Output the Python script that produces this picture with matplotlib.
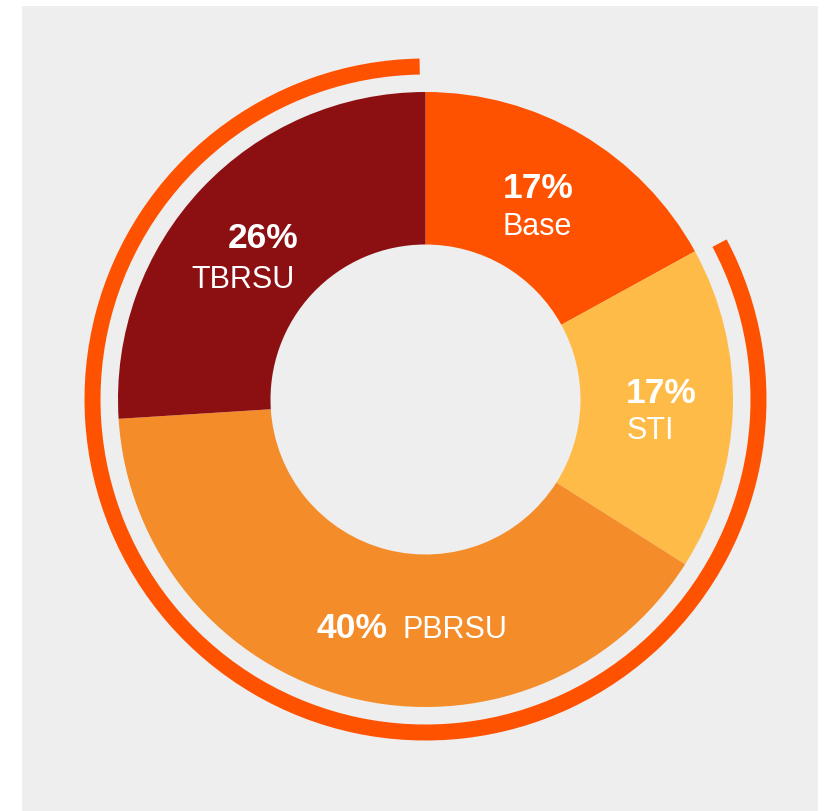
import matplotlib
matplotlib.use("Agg")
import matplotlib.pyplot as plt
from matplotlib.patches import Wedge

plt.rcParams['font.family'] = ['Liberation Sans', 'DejaVu Sans']

# Data
categories = ["Base", "STI", "PBRSU", "TBRSU"]
shares = [17, 17, 40, 26]
colors = ["#FF5200", "#FFBB47", "#F58C2A", "#8C0F12"]
pct_labels = ["17%", "17%", "40%", "26%"]

W, H = 825, 812
fig = plt.figure(figsize=(W / 100, H / 100), dpi=100)
fig.patch.set_facecolor("white")

left_px, right_px, top_px = 22, 818, 7
ax = fig.add_axes([left_px / W, 0, (right_px - left_px) / W, (H - top_px) / H])
ax.set_facecolor("#EEEEEE")

def py(y):
    return H - y

cx, cy = 425.5, py(400.5)
r_out, r_in = 307.5, 155

ax.pie(shares, colors=colors, startangle=90, counterclock=False,
       radius=r_out, center=(cx, cy), frame=True,
       wedgeprops=dict(width=r_out - r_in, edgecolor="none", linewidth=0))

# Outer arc around all slices except Base
total = sum(shares)
a_start = 360 * shares[0] / total + 0.8
a_end = 359.0
arc = Wedge((cx, cy), 341, 90 - a_end, 90 - a_start, width=16,
            facecolor=colors[0], edgecolor="none")
ax.add_patch(arc)

ax.set_xlim(left_px, right_px)
ax.set_ylim(0, H - top_px)
ax.set_aspect("equal")
ax.set_xticks([])
ax.set_yticks([])
for s in ax.spines.values():
    s.set_visible(False)

pct_fs, name_fs = 25.5, 22
# Base
ax.text(503, py(198), pct_labels[0], color="white", fontsize=pct_fs, fontweight="bold", ha="left", va="baseline")
ax.text(502, py(235), categories[0], color="white", fontsize=name_fs, ha="left", va="baseline")
# STI
ax.text(626, py(403), pct_labels[1], color="white", fontsize=pct_fs, fontweight="bold", ha="left", va="baseline")
ax.text(627, py(439), categories[1], color="white", fontsize=name_fs, ha="left", va="baseline")
# PBRSU
ax.text(316, py(638), pct_labels[2], color="white", fontsize=pct_fs, fontweight="bold", ha="left", va="baseline")
ax.text(402, py(638), categories[2], color="white", fontsize=name_fs, ha="left", va="baseline")
# TBRSU
ax.text(298, py(248), pct_labels[3], color="white", fontsize=pct_fs, fontweight="bold", ha="right", va="baseline")
ax.text(295, py(288), categories[3], color="white", fontsize=name_fs, ha="right", va="baseline")

fig.savefig("out.png", dpi=100, facecolor=fig.get_facecolor())
